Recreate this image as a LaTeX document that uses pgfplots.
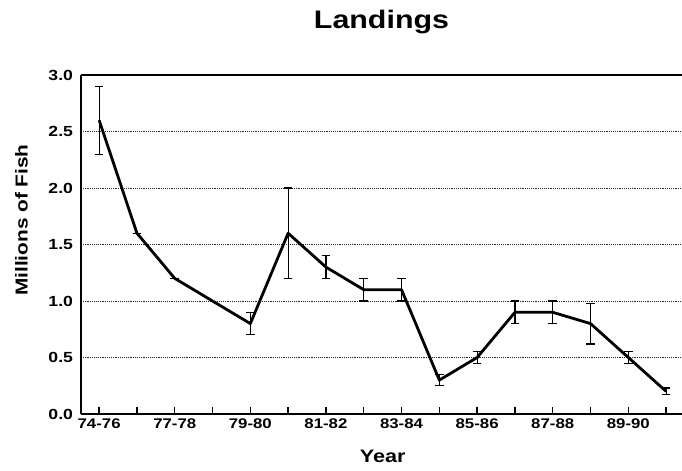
\documentclass[border=0pt]{standalone}
\usepackage{fontspec}
\setmainfont{Liberation Sans}
\newfontfamily\widefont[FakeStretch=1.2]{Liberation Sans}
\usepackage{pgfplots}
\pgfplotsset{compat=1.18}
\begin{document}
\begin{tikzpicture}
  \path[use as bounding box] (-60.75pt,-42.75pt) rectangle (450.75pt,310.5pt);
  \begin{axis}[
      scale only axis,
      width=450.75pt, height=254.25pt,
      xmin=-0.48, xmax=15.42,
      ymin=0, ymax=3,
      axis x line=box, axis y line=left,
      axis line style={-, line width=1.7pt, black},
      xtick={0,...,15},
      xticklabels={74-76,,77-78,,79-80,,81-82,,83-84,,85-86,,87-88,,89-90,},
      xtick pos=left, xticklabel pos=left,
      xtick align=inside,
      major tick length=5pt,
      xtick style={line width=1pt, black},
      ytick={0,0.5,...,3},
      ytick style={draw=none},
      ymajorgrids,
      grid style={densely dotted, line width=0.6pt, black!85},
      tick label style={font=\widefont\bfseries\fontsize{10.5}{12}\selectfont},
      yticklabel style={font=\widefont\bfseries\fontsize{11}{13}\selectfont},
      /pgf/number format/assume math mode=true,
      yticklabel style={/pgf/number format/.cd, fixed, fixed zerofill, precision=1},
      title={Landings},
      title style={at={(0.5,1)}, anchor=base, yshift=29pt,
        font=\widefont\bfseries\fontsize{19}{22}\selectfont},
      ylabel={Millions of Fish},
      ylabel style={at={(axis description cs:-0.099,0.572)}, anchor=center,
        font=\widefont\bfseries\fontsize{13}{15}\selectfont},
      xlabel={Year},
      xlabel style={at={(axis description cs:0.502,0)}, anchor=center, yshift=-32pt,
        font=\widefont\bfseries\fontsize{13.5}{15}\selectfont},
    ]
    \addplot[black, line width=2.1pt, line join=round, mark=none,
      error bars/.cd, y dir=both, y explicit,
      error bar style={line width=0.9pt, solid},
      error mark options={rotate=90, mark size=3.2pt, line width=0.9pt}]
      coordinates {
        (0,2.6) +- (0,0.3)
        (1,1.6) +- (0,0)
        (2,1.2) +- (0,0)
        (4,0.8) +- (0,0.1)
        (5,1.6) +- (0,0.4)
        (6,1.3) +- (0,0.1)
        (7,1.1) +- (0,0.1)
        (8,1.1) +- (0,0.1)
        (9,0.3) +- (0,0.05)
        (10,0.5) +- (0,0.05)
        (11,0.9) +- (0,0.1)
        (12,0.9) +- (0,0.1)
        (13,0.8) +- (0,0.18)
        (14,0.5) +- (0,0.05)
        (15,0.2) +- (0,0.03)
      };
  \end{axis}
\end{tikzpicture}
\end{document}
